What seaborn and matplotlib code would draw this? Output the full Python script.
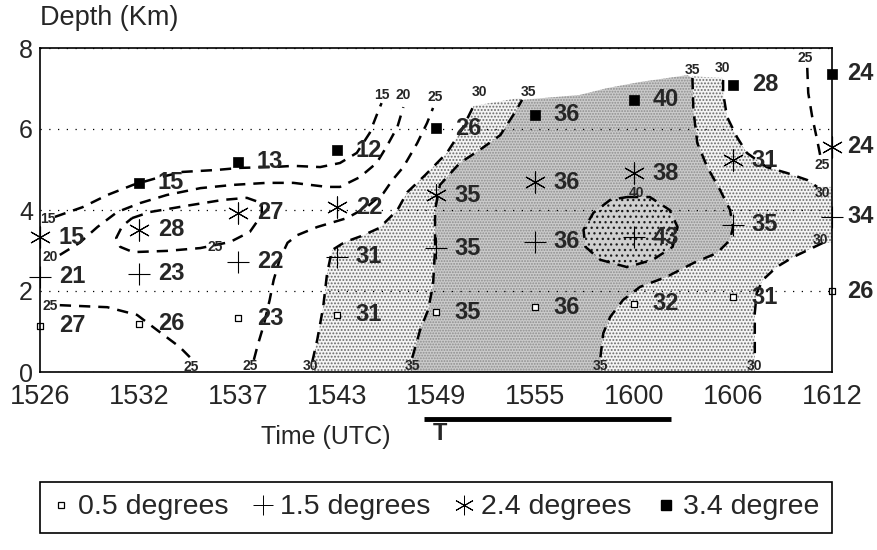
import matplotlib
matplotlib.use("Agg")
import matplotlib.pyplot as plt
import matplotlib.transforms as mtransforms
from matplotlib.lines import Line2D
import numpy as np
import pandas as pd
import seaborn as sns

# ---------------- data ----------------
times = ["1526", "1532", "1537", "1543", "1549", "1555", "1600", "1606", "1612"]
t_idx = list(range(len(times)))

# beam height (km) and reflectivity value for each elevation angle
h05 = [1.14, 1.19, 1.33, 1.41, 1.48, 1.60, 1.68, 1.85, 2.00]
v05 = [27, 26, 23, 31, 35, 36, 32, 31, 26]
h15 = [2.35, 2.42, 2.72, 2.84, 3.06, 3.21, 3.33, 3.63, 3.83]
v15 = [21, 23, 22, 31, 35, 36, 43, 35, 34]
h24 = [3.33, 3.51, 3.93, 4.07, 4.37, 4.69, 4.91, 5.23, 5.56]
v24 = [15, 28, 27, 22, 35, 36, 38, 31, 24]
t34 = [1, 2, 3, 4, 5, 6, 7, 8]
h34 = [4.67, 5.19, 5.48, 6.02, 6.35, 6.72, 7.09, 7.36]
v34 = [15, 13, 12, 26, 36, 40, 28, 24]

legend_labels = ["0.5 degrees", "1.5 degrees", "2.4 degrees", "3.4 degree"]

# hand-analysed contours (time index, depth km)
c15 = [(0.15, 3.83), (0.43, 4.07), (0.68, 4.37), (0.94, 4.62), (1.18, 4.79), (1.44, 4.94),
       (1.79, 4.99), (2.02, 5.04), (2.35, 5.06), (2.56, 5.09), (2.83, 5.06), (3.03, 5.16),
       (3.20, 5.41), (3.33, 5.90), (3.41, 6.40), (3.45, 6.64)]
c20 = [(0.20, 2.89), (0.40, 3.19), (0.58, 3.58), (0.78, 3.95), (1.01, 4.17), (1.28, 4.37),
       (1.62, 4.54), (1.95, 4.62), (2.29, 4.67), (2.56, 4.67), (2.90, 4.57), (3.03, 4.57),
       (3.23, 4.81), (3.40, 5.16), (3.50, 5.56), (3.61, 6.05), (3.67, 6.54)]
c25_loop = [(0.93, 3.80), (1.11, 3.95), (1.52, 4.12), (1.85, 4.25), (2.09, 4.30), (2.24, 4.17),
            (2.24, 3.88), (2.12, 3.46), (1.92, 3.21), (1.62, 3.06), (1.28, 2.99), (0.94, 2.96),
            (0.81, 3.09), (0.77, 3.31), (0.83, 3.60), (0.93, 3.80)]
c25_low = [(0.20, 1.65), (0.68, 1.60), (0.98, 1.41), (1.18, 1.04), (1.41, 0.62), (1.52, 0.35)]
c25_mid = [(2.16, 0.30), (2.20, 0.67), (2.26, 1.16), (2.32, 1.78), (2.36, 2.27), (2.42, 2.77),
           (2.50, 3.19), (2.60, 3.38), (2.80, 3.58), (3.10, 3.80), (3.30, 4.07), (3.47, 4.42),
           (3.56, 4.74), (3.67, 5.06), (3.81, 5.65), (3.91, 6.15), (3.97, 6.52)]
c25_right = [(7.75, 7.51), (7.76, 6.89), (7.80, 6.30), (7.85, 5.73), (7.88, 5.36)]
c30_left = [(2.75, 0.25), (2.80, 0.79), (2.86, 1.60), (2.90, 2.44), (2.95, 3.01), (3.08, 3.21),
            (3.25, 3.36), (3.43, 3.56), (3.61, 4.00), (3.71, 4.44), (3.89, 4.86), (4.11, 5.41),
            (4.26, 5.98), (4.38, 6.57)]
c35_left = [(3.76, 0.35), (3.84, 1.04), (3.92, 1.53), (3.97, 2.15), (3.99, 3.01), (3.99, 4.00),
            (4.04, 4.62), (4.24, 5.16), (4.44, 5.48), (4.65, 5.85), (4.80, 6.42), (4.87, 6.72)]
c35_right = [(6.59, 7.26), (6.60, 6.47), (6.64, 5.65), (6.74, 5.06), (6.87, 4.49), (6.97, 4.00),
             (7.00, 3.58), (6.97, 3.26), (6.84, 2.94), (6.60, 2.69), (6.33, 2.35), (6.06, 2.10),
             (5.89, 1.78), (5.76, 1.36), (5.69, 0.96), (5.66, 0.35)]
c30_right_up = [(6.90, 7.21), (6.90, 6.89), (6.94, 6.30), (7.04, 5.80), (7.14, 5.41), (7.34, 5.06),
                (7.55, 4.91), (7.75, 4.74), (7.85, 4.57)]
c30_right_low = [(7.91, 3.19), (7.61, 2.84), (7.44, 2.59), (7.30, 2.27), (7.24, 1.95), (7.22, 1.46),
                 (7.22, 0.96), (7.22, 0.35)]
c40_loop = [(5.93, 4.32), (6.16, 4.32), (6.36, 4.00), (6.44, 3.58), (6.39, 3.09), (6.19, 2.77),
            (5.93, 2.59), (5.66, 2.77), (5.51, 3.09), (5.49, 3.51), (5.59, 3.93), (5.76, 4.25),
            (5.93, 4.32)]
# upper limit of the radar coverage
top_edge = [(4.38, 6.62), (4.85, 6.77), (5.45, 6.84), (5.73, 7.01), (6.06, 7.16), (6.54, 7.33),
            (6.59, 7.30), (6.90, 7.26)]

clab_x = [0.08, 0.10, 3.45, 3.67, 3.99, 4.44, 4.93, 1.77, 0.10, 1.53, 2.12, 2.73, 3.76, 5.66,
          7.22, 6.59, 6.89, 7.73, 7.90, 7.90, 7.88, 6.03]
clab_y = [3.78, 2.84, 6.84, 6.84, 6.79, 6.91, 6.91, 3.09, 1.63, 0.12, 0.15, 0.15, 0.15, 0.15,
          0.15, 7.46, 7.51, 7.75, 5.11, 4.42, 3.26, 4.42]
clab_t = ["15", "20", "15", "20", "25", "30", "35", "25", "25", "25", "25", "30", "35", "35",
          "30", "35", "30", "25", "25", "30", "30", "40"]

period = [3.88, 6.37]   # "T" period under the axis

# ---------------- style ----------------
sns.set_style("white")
plt.rcParams["font.family"] = ["Liberation Sans", "DejaVu Sans"]
plt.rcParams["hatch.linewidth"] = 0.9

fig = plt.figure(figsize=(8.78, 5.5), dpi=100)
ax = fig.add_axes([40 / 878, 1 - 372 / 550, 792 / 878, 324 / 550])
ax.set_xlim(0, 8)
ax.set_ylim(0, 8)

def seg(edge, x0, x1):
    return [p for p in edge if x0 <= p[0] <= x1]

# shaded regions built from the contours
gray_poly = ([(c35_left[0][0], 0)] + c35_left + seg(top_edge, c35_left[-1][0] + 1e-6, c35_right[0][0] - 1e-6)
             + c35_right + [(c35_right[-1][0], 0)])
light_left = ([(c30_left[0][0], 0)] + c30_left + seg(top_edge, c30_left[-1][0] + 1e-6, c35_left[-1][0])
              + c35_left[::-1] + [(c35_left[0][0], 0)])
light_right = (c35_right + [(c35_right[-1][0], 0), (c30_right_low[-1][0], 0)] + c30_right_low[::-1]
               + [(8, c30_right_low[0][1]), (8, c30_right_up[-1][1])] + c30_right_up[::-1]
               + seg(top_edge, c35_right[0][0], c30_right_up[0][0])[::-1])

for poly, fc, hc, hatch in [(light_left, "#f4f4f4", "#6a6a6a", "....."),
                            (light_right, "#f4f4f4", "#6a6a6a", "....."),
                            (gray_poly, "#cbcbcb", "#8e8e8e", "......"),
                            (c40_loop, "#cfcfcf", "#1a1a1a", "...")]:
    xs, ys = zip(*poly)
    ax.fill(xs, ys, facecolor=fc, edgecolor=hc, hatch=hatch, lw=0, zorder=0.5)

# dashed contours
for c in [c15, c20, c25_loop, c25_low, c25_mid, c25_right, c30_left, c35_left, c35_right,
          c30_right_up, c30_right_low, c40_loop]:
    xs, ys = zip(*c)
    sns.lineplot(x=list(xs), y=list(ys), sort=False, estimator=None, ax=ax, color="black",
                 lw=1.8, linestyle=(0, (4.5, 3.2)), zorder=3)

for x, y, t in zip(clab_x, clab_y, clab_t):
    ax.text(x, y, t, fontsize=10, fontweight="bold", ha="center", va="center", zorder=5,
            clip_on=False)

# points
sns.scatterplot(x=t_idx, y=h05, marker="s", s=16, color="white", edgecolor="black",
                linewidth=0.9, ax=ax, zorder=4, clip_on=False, legend=False)
sns.scatterplot(x=t_idx, y=h15, marker="+", s=230, color="black", linewidth=0.8,
                ax=ax, zorder=4, clip_on=False, legend=False)
sns.scatterplot(x=t_idx, y=h24, marker=(6, 2, 0), s=230, color="black", linewidth=0.8,
                ax=ax, zorder=4, clip_on=False, legend=False)
sns.scatterplot(x=t34, y=h34, marker="s", s=60, color="black", edgecolor="black",
                linewidth=0.5, ax=ax, zorder=4, clip_on=False, legend=False)

for xs, hs, vs in [(t_idx, h05, v05), (t_idx, h15, v15), (t_idx, h24, v24), (t34, h34, v34)]:
    for x, h, v in zip(xs, hs, vs):
        off = 11 if x == len(times) - 1 else 13.5
        ax.annotate(str(v), (x, h), xytext=(off, 0), textcoords="offset points",
                    fontsize=17, fontweight="bold", ha="left", va="center", zorder=6,
                    annotation_clip=False)

# axes styling
ax.set_xticks(t_idx)
ax.set_xticklabels(times)
ax.set_yticks([0, 2, 4, 6, 8])
ax.set_yticklabels(["0", "2", "4", "6", "8"])
ax.tick_params(axis="x", direction="in", length=5, width=0.8, labelsize=19.5, pad=9)
ax.tick_params(axis="y", length=0, labelsize=18, pad=5)
ax.yaxis.grid(True, linestyle=(0, (1, 6)), color="black", lw=0.9)
ax.xaxis.grid(False)
ax.set_axisbelow(False)
for sp in ax.spines.values():
    sp.set_color("black")
    sp.set_linewidth(1.2)
    sp.set_zorder(7)

# period bar and labels
trans = mtransforms.blended_transform_factory(ax.transData, ax.transAxes)
ax.plot(period, [-0.145, -0.145], transform=trans, color="black", lw=3.5, clip_on=False,
        solid_capstyle="butt")
ax.text(4.04, -0.19, "T", transform=trans, fontsize=17, fontweight="bold", ha="center",
        va="center")
fig.text(326 / 878, 1 - 437 / 550, "Time (UTC)", fontsize=18, ha="center", va="center")
fig.text(40 / 878, 1 - 18 / 550, "Depth (Km)", fontsize=19.5, ha="left", va="center")

handles = [
    Line2D([], [], marker="s", ms=4, mfc="white", mec="black", mew=0.9, ls="none"),
    Line2D([], [], marker="+", ms=14, color="black", mew=0.7, ls="none"),
    Line2D([], [], marker=(6, 2, 0), ms=14, color="black", mew=0.7, ls="none"),
    Line2D([], [], marker="s", ms=7, color="black", ls="none"),
]
leg = fig.legend(handles, legend_labels, loc="center", ncol=4, mode="expand",
                 bbox_to_anchor=(40 / 878, 1 - 537 / 550, 792 / 878, 59 / 550),
                 fancybox=False, edgecolor="black", framealpha=1, fontsize=20.5,
                 handlelength=0.6, handletextpad=0.3, borderaxespad=0, borderpad=0.45,
                 columnspacing=0.5)
leg.get_frame().set_linewidth(1.2)

fig.savefig("out.png", dpi=100)
